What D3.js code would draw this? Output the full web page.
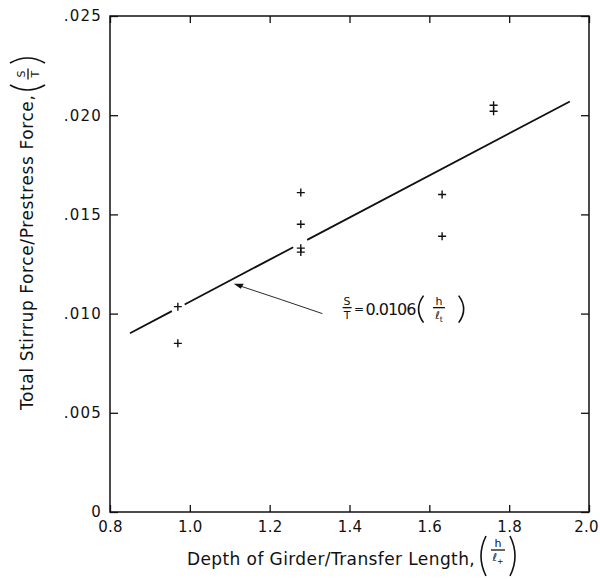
<!DOCTYPE html>
<html>
<head>
<meta charset="utf-8">
<script src="https://cdn.jsdelivr.net/npm/d3@7"></script>
<style>
  body { margin: 0; background: #fff; }
  text { font-family: "DejaVu Sans", sans-serif; fill: #111; }
</style>
</head>
<body>
<div class="chart"></div>
<script>
const xTicks = [0.8, 1.0, 1.2, 1.4, 1.6, 1.8, 2.0];
const yTicks = [0, 0.005, 0.010, 0.015, 0.020, 0.025];

// test points: h/lt against S/T
const ratioH = [0.97, 0.97, 1.278, 1.278, 1.278, 1.278, 1.632, 1.632, 1.761, 1.761];
const ratioS = [0.01035, 0.0085, 0.0161, 0.0145, 0.0133, 0.0131, 0.0160, 0.0139, 0.0205, 0.0202];

// fitted line S/T = 0.0106 (h/lt), broken where it passes the markers
const slope = 0.0106;
const fitPieces = [[0.85, 0.955], [0.987, 1.259], [1.294, 1.952]];

const width = 600, height = 579;
const margin = {top: 16, right: 11, bottom: 67, left: 110};

const svg = d3.select(".chart")
  .append("svg")
  .attr("width", width)
  .attr("height", height);

const x = d3.scaleLinear().domain([0.8, 2.0]).range([margin.left, width - margin.right]);
const y = d3.scaleLinear().domain([0, 0.025]).range([height - margin.bottom, margin.top]);

const yFmt = d => d === 0 ? "0" : d3.format(".3f")(d).slice(1);

function styleAxis(g, spacing) {
  g.select(".domain").remove();
  g.attr("font-family", null).attr("font-size", null);
  g.selectAll(".tick line").attr("stroke", "#111").attr("stroke-width", 1.3);
  g.selectAll(".tick text").attr("font-size", 15).attr("letter-spacing", spacing + "px").attr("fill", "#111");
}

// bottom / left with labels, top / right only ticks; all ticks point inward
svg.append("g")
  .attr("transform", `translate(0,${y(0)})`)
  .call(d3.axisBottom(x).tickValues(xTicks).tickFormat(d3.format(".1f"))
    .tickSize(-7).tickSizeOuter(0).tickPadding(9))
  .call(styleAxis, 0.3)
  .call(g => g.selectAll(".tick text").filter(d => d === 2.0).attr("dx", -3));

svg.append("g")
  .attr("transform", `translate(${x(0.8)},0)`)
  .call(d3.axisLeft(y).tickValues(yTicks).tickFormat(yFmt)
    .tickSize(-8).tickSizeOuter(0).tickPadding(8))
  .call(styleAxis, 1.2);

svg.append("g")
  .attr("transform", `translate(0,${y(0.025)})`)
  .call(d3.axisTop(x).tickValues(xTicks).tickFormat("").tickSize(-7).tickSizeOuter(0))
  .call(styleAxis, 0);

svg.append("g")
  .attr("transform", `translate(${x(2.0)},0)`)
  .call(d3.axisRight(y).tickValues(yTicks).tickFormat("").tickSize(-8).tickSizeOuter(0))
  .call(styleAxis, 0);

// frame
svg.append("rect")
  .attr("x", x(0.8)).attr("y", y(0.025))
  .attr("width", x(2.0) - x(0.8)).attr("height", y(0) - y(0.025))
  .attr("fill", "none").attr("stroke", "#111").attr("stroke-width", 1.5);

// fitted line
const line = d3.line().x(d => x(d)).y(d => y(slope * d));
svg.append("g")
  .selectAll("path")
  .data(fitPieces)
  .join("path")
  .attr("d", d => line(d))
  .attr("fill", "none")
  .attr("stroke", "#111")
  .attr("stroke-width", 1.8);

// plus markers
const pts = ratioH.map((h, i) => [h, ratioS[i]]);
svg.append("g")
  .selectAll("path")
  .data(pts)
  .join("path")
  .attr("d", d => `M${x(d[0]) - 4},${y(d[1])}h8M${x(d[0])},${y(d[1]) - 4}v8`)
  .attr("stroke", "#111")
  .attr("stroke-width", 1.4);

// helpers for the stacked fractions and tall brackets
function fraction(g, cx, cy, num, den, sub, size, barLen) {
  g.append("line")
    .attr("x1", cx - barLen / 2).attr("x2", cx + barLen / 2)
    .attr("y1", cy).attr("y2", cy)
    .attr("stroke", "#111").attr("stroke-width", 1.3);
  g.append("text")
    .attr("x", cx).attr("y", cy - 3)
    .attr("text-anchor", "middle")
    .attr("font-size", size)
    .text(num);
  const t = g.append("text")
    .attr("x", cx).attr("y", cy + 3 + size * 0.75)
    .attr("text-anchor", "middle")
    .attr("font-size", size)
    .text(den);
  if (sub) t.append("tspan").attr("font-size", size * 0.7).attr("dy", 3).text(sub);
}

function brackets(g, x0, x1, top, bottom) {
  const mid = (top + bottom) / 2, w = 5;
  g.append("path")
    .attr("d", `M${x0 + w},${top}Q${x0 - w},${mid} ${x0 + w},${bottom}` +
               `M${x1 - w},${top}Q${x1 + w},${mid} ${x1 - w},${bottom}`)
    .attr("fill", "none").attr("stroke", "#111").attr("stroke-width", 1.6);
}

// x title
const xt = svg.append("g");
xt.append("text")
  .attr("x", 187).attr("y", 565)
  .attr("font-size", 17)
  .attr("letter-spacing", "0.4px")
  .text("Depth of Girder/Transfer Length,");
fraction(xt, 498, 550, "h", "ℓ", "+", 11, 14);
brackets(xt, 481, 515, 536, 576);

// y title, rotated
const yt = svg.append("g").attr("transform", "translate(33,410) rotate(-90)");
yt.append("text")
  .attr("x", 0).attr("y", 0)
  .attr("font-size", 17)
  .attr("letter-spacing", "0.6px")
  .text("Total Stirrup Force/Prestress Force,");
fraction(yt, 336, -5, "S", "T", null, 11, 11);
brackets(yt, 320, 352, -23, 12);

// annotation with arrow to the fitted line
const tip = [x(1.11), y(0.0115)];
const tail = [x(1.332), y(0.0100)];
svg.append("path")
  .attr("d", `M${tail[0]},${tail[1]}Q${(tip[0] + tail[0]) / 2 + 4},${(tip[1] + tail[1]) / 2 + 1} ${tip[0] + 6},${tip[1] + 2}`)
  .attr("fill", "none").attr("stroke", "#111").attr("stroke-width", 0.9);
svg.append("path")
  .attr("d", `M${tip[0]},${tip[1]}l10,0l-3,5z`)
  .attr("fill", "#111");

const an = svg.append("g");
const ay = y(0.0103);
fraction(an, x(1.394), ay, "S", "T", null, 11, 9);
an.append("text")
  .attr("x", x(1.424)).attr("y", ay + 5)
  .attr("text-anchor", "middle")
  .attr("font-size", 12)
  .text("=");
an.append("text")
  .attr("x", x(1.44)).attr("y", ay + 7)
  .attr("font-size", 16)
  .attr("letter-spacing", "-1px")
  .text("0.0106");
fraction(an, x(1.624), ay, "h", "ℓ", "t", 11, 12);
brackets(an, x(1.573), x(1.686), ay - 12, ay + 15);
</script>
</body>
</html>
